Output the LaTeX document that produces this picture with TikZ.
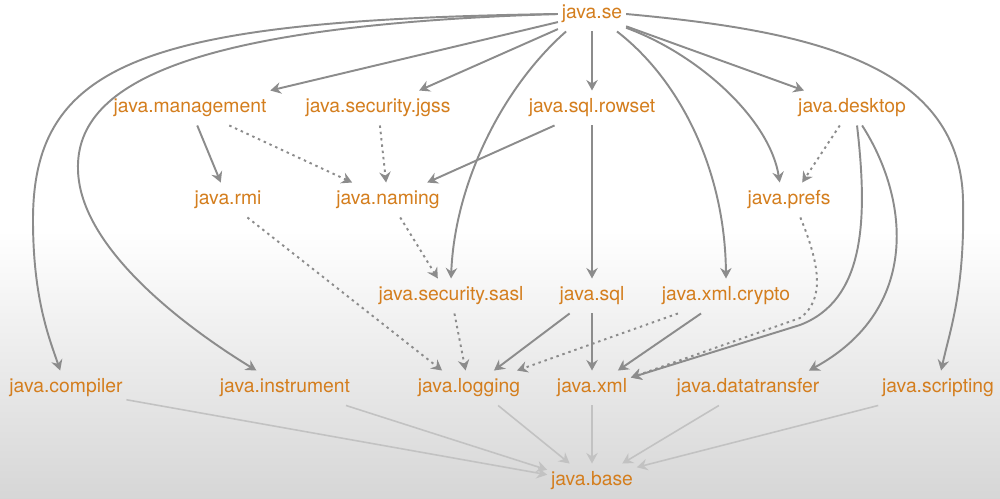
\documentclass[tikz,border=0pt]{standalone}
\usepackage{fontspec}
\setmainfont{TeX Gyre Heros}
\usetikzlibrary{arrows.meta}

\definecolor{modorange}{RGB}{212,126,30}
\definecolor{depgray}{RGB}{140,140,140}
\definecolor{basegray}{RGB}{194,194,194}

\begin{document}
\begin{tikzpicture}[x=0.02cm,y=-0.02cm,
        mod/.style={text=modorange,font=\fontsize{11}{13}\selectfont,text height=8pt,text depth=2.5pt,inner xsep=2pt,inner ysep=4.5pt},
        dep/.style={draw=depgray,line width=1.1pt,-{Stealth[length=6pt,width=6.5pt,inset=2pt]}},
        opt/.style={dep,dash pattern=on 1.4pt off 2.2pt},
        tobase/.style={draw=basegray,line width=0.9pt,-{Stealth[length=6pt,width=6.5pt,inset=2pt]}}]
        \useasboundingbox (0,0) rectangle (1000,499);
        \fill[white] (0,0) rectangle (1000,230);
        \shade[top color=white,bottom color=black!16] (0,230) rectangle (1000,499);

        \node[mod] (se) at (592,14) {java.se};
        \node[mod] (mgmt) at (190,108) {java.management};
        \node[mod] (jgss) at (378,108) {java.security.jgss};
        \node[mod] (rowset) at (592,108) {java.sql.rowset};
        \node[mod] (desktop) at (852,108) {java.desktop};
        \node[mod] (rmi) at (228,200) {java.rmi};
        \node[mod] (naming) at (388,200) {java.naming};
        \node[mod] (prefs) at (789,200) {java.prefs};
        \node[mod] (sasl) at (451,296) {java.security.sasl};
        \node[mod] (sql) at (592,296) {java.sql};
        \node[mod] (crypto) at (726,296) {java.xml.crypto};
        \node[mod] (compiler) at (66,388) {java.compiler};
        \node[mod] (instr) at (285,388) {java.instrument};
        \node[mod] (logging) at (469,388) {java.logging};
        \node[mod] (xml) at (592,388) {java.xml};
        \node[mod] (dtrans) at (748,388) {java.datatransfer};
        \node[mod] (script) at (938,388) {java.scripting};
        \node[mod] (base) at (592,481) {java.base};

        % java.se requires transitive
        \draw[dep] (se.west) .. controls (150,20) and (33,60) .. (33,220) .. controls (33,300) and (50,340) .. (compiler);
        \draw[dep] (se.west) .. controls (200,25) and (75,80) .. (78,170) .. controls (80,250) and (190,330) .. (instr);
        \draw[dep] (se) -- (mgmt.north east);
        \draw[dep] (se) -- (jgss.23);
        \draw[dep] (se.214) .. controls (505,85) and (455,180) .. (sasl.north);
        \draw[dep] (se) -- (rowset);
        \draw[dep] (se.325) .. controls (680,80) and (725,170) .. (crypto.north);
        \draw[dep] (se.338) .. controls (700,55) and (770,120) .. (prefs.118);
        \draw[dep] (se) -- (desktop.160);
        \draw[dep] (se.east) .. controls (800,30) and (960,60) .. (963,200) .. controls (965,290) and (950,330) .. (script.80);

        % middle layers
        \draw[dep] (mgmt) -- (rmi);
        \draw[opt] (mgmt.336) -- (naming.154);
        \draw[opt] (jgss) -- (naming);
        \draw[dep] (rowset.205) -- (naming.24);
        \draw[dep] (rowset) -- (sql);
        \draw[opt] (desktop.235) -- (prefs.53);
        \draw[dep] (desktop.286) .. controls (868,220) and (865,300) .. (800,325) -- (xml.15);
        \draw[dep] (desktop.300) .. controls (910,200) and (920,310) .. (dtrans.16);
        \draw[opt] (prefs.303) .. controls (820,265) and (825,300) .. (800,318) -- (xml.15);
        \draw[opt] (rmi.318) -- (logging.147);
        \draw[opt] (naming.305) -- (sasl.127);
        \draw[opt] (sasl) -- (logging);
        \draw[dep] (sql.218) -- (logging.35);
        \draw[dep] (sql) -- (xml);
        \draw[opt] (crypto.200) -- (logging.20);
        \draw[dep] (crypto.215) -- (xml.34);

        % everything reads java.base
        \draw[tobase] (compiler.349) -- (base.172);
        \draw[tobase] (instr.344) -- (base.166);
        \draw[tobase] (logging.329) -- (base.142);
        \draw[tobase] (xml) -- (base);
        \draw[tobase] (dtrans.211) -- (base.30);
        \draw[tobase] (script.south west) -- (base.17);
\end{tikzpicture}
\end{document}
